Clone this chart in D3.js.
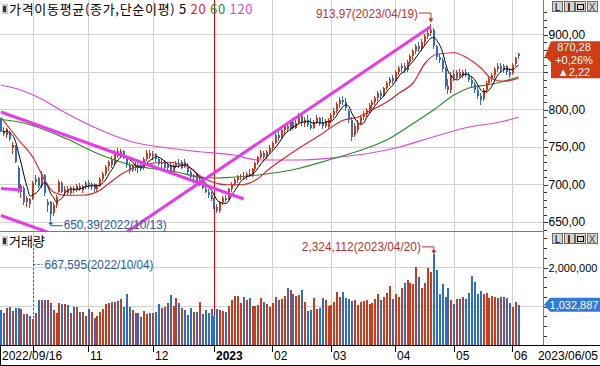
<!DOCTYPE html>
<html>
<head>
<meta charset="utf-8">
<script src="https://cdn.jsdelivr.net/npm/d3@7"></script>
<style>
body { margin: 0; background: #fff; }
svg { display: block; font-family: "Liberation Sans", Arial, sans-serif; }
</style>
</head>
<body>
<div id="chart"></div>
<script>
// KOSDAQ daily, 2022/09/16 - 2023/06/05
// trading days for each month
var monthDays = [
  ["2022-09", [16,19,20,21,22,23,26,27,28,29,30]],
  ["2022-10", [4,5,6,7,11,12,13,14,17,18,19,20,21,24,25,26,27,28,31]],
  ["2022-11", [1,2,3,4,7,8,9,10,11,14,15,16,17,18,21,22,23,24,25,28,29,30]],
  ["2022-12", [1,2,5,6,7,8,9,12,13,14,15,16,19,20,21,22,23,26,27,28,29]],
  ["2023-01", [2,3,4,5,6,9,10,11,12,13,16,17,18,19,20,25,26,27,30,31]],
  ["2023-02", [1,2,3,6,7,8,9,10,13,14,15,16,17,20,21,22,23,24,27,28]],
  ["2023-03", [2,3,6,7,8,9,10,13,14,15,16,17,20,21,22,23,24,27,28,29,30,31]],
  ["2023-04", [3,4,5,6,7,10,11,12,13,14,17,18,19,20,21,24,25,26,27,28]],
  ["2023-05", [2,3,4,8,9,10,11,12,15,16,17,18,19,22,23,24,25,26,30,31]],
  ["2023-06", [1,2,5]]
];

var opens = [785,770,765,770,748,750,722,690,695,676,680,
  680,703,708,697,712,672,676,662,672,690,702,690,694,688,695,692,698,692,697,
  701,697,700,693,698,707,713,724,732,728,744,739,744,735,726,719,724,721,726,721,734,741,
  737,740,733,727,730,721,725,718,724,728,722,730,723,716,709,712,702,706,694,690,686,
  680,670,664,676,682,680,693,700,705,709,711,709,714,712,720,728,736,741,736,743,
  748,755,765,762,772,777,773,783,775,782,791,781,786,779,775,783,788,782,777,776,
  785,792,798,807,812,809,798,786,765,772,782,789,794,799,805,810,815,821,818,828,835,842,
  838,849,855,858,852,863,871,877,884,880,890,897,901,905,884,870,866,853,831,826,
  847,842,849,844,850,846,839,833,826,818,813,825,835,840,845,853,858,852,857,849,
  848,860,873];
var highs = [788,776,775,771,756,752,724,700,697,684,682,
  704,712,710,718,713,680,678,676,686,706,704,697,698,697,698,700,702,699,704,
  706,703,702,700,710,716,726,732,738,746,748,747,746,737,729,727,730,728,730,736,745,746,
  744,742,736,733,732,728,728,727,731,733,732,734,728,719,714,714,710,708,698,694,689,
  682,673,678,684,686,695,703,708,712,714,716,716,720,722,730,738,745,744,746,752,
  758,768,772,775,780,782,786,788,786,795,794,790,792,788,786,792,790,789,787,788,
  795,801,810,816,818,815,800,789,782,785,792,797,802,808,812,818,824,826,830,838,843,846,
  852,858,862,861,866,874,880,887,890,893,900,906,913.97,908,886,874,868,856,840,850,
  852,852,853,852,854,849,844,836,829,822,828,838,843,848,856,862,861,860,859,855,
  862,869,875];
var lows = [770,764,762,757,740,728,688,681,672,670,668,
  679,699,695,695,684,663,650.39,658,668,688,688,684,685,686,688,690,691,688,693,
  694,692,690,690,696,704,711,718,722,726,735,736,733,722,714,716,718,715,717,719,731,734,
  732,730,724,722,719,716,715,716,721,722,720,721,714,706,701,700,698,693,688,682,677,
  667,661,662,672,676,679,690,697,701,705,706,706,709,710,718,726,733,733,734,740,
  745,753,758,760,766,770,771,772,773,780,778,776,776,772,773,780,778,774,775,774,
  782,788,795,802,805,798,782,758,763,768,779,785,790,795,800,806,811,814,816,825,831,834,
  836,845,850,848,850,860,866,873,876,878,886,893,898,880,866,862,850,827,820,822,
  838,840,841,842,843,836,830,822,814,806,811,822,832,836,842,850,849,848,846,842,
  846,857,867];
var closes = [772,767,773,760,752,730,692,697,676,681,673,
  702,707,698,714,688,676,660,672,683,703,690,694,688,695,692,698,693,697,701,
  697,700,693,698,707,713,723,729,726,743,738,744,736,725,718,724,721,726,720,733,741,737,
  740,733,727,730,721,725,718,724,728,725,730,723,716,709,712,702,706,695,690,686,680,
  671,664,676,681,679,693,700,705,709,711,709,714,712,720,728,736,741,736,743,748,
  755,765,762,772,777,773,783,775,782,791,781,786,779,775,783,788,782,777,784,785,
  792,798,807,812,809,801,786,763,778,782,789,794,799,805,810,815,821,818,828,835,840,838,
  849,855,858,852,863,871,877,884,880,890,897,901,905,884,870,866,853,831,826,846,
  842,849,844,850,846,839,833,826,818,812,825,835,840,845,853,858,852,857,849,846,
  859,868.06,870.28];

// volume, thousand shares
var volumes = [897,812,940,983,880,940,940,915,795,795,740,667.595,
  812,1154,1154,1154,1154,1068,897,829,1068,1051,
  1051,1026,829,983,983,855,855,752,915,855,
  701,744,855,915,1051,1085,1111,1111,1137,1188,
  983,1308,983,897,829,812,726,880,795,829,
  829,838,1051,940,983,1068,1282,1008,1214,1068,
  940,897,769,940,855,838,1111,795,897,829,
  915,744,915,897,880,838,1000,1154,1256,1256,
  1085,1239,1154,1197,1000,1000,1026,1197,1111,1051,
  983,1085,1239,1154,1188,1256,1453,1410,1308,1265,
  1282,1410,1111,880,897,1197,915,940,1197,1154,
  1000,1026,1111,1368,1239,1368,1197,1171,1137,1154,
  1026,1111,1137,1154,1043,1085,1171,1308,1154,1222,
  1325,1513,1171,1308,1239,1453,1581,1667,1581,1564,
  2009,1752,1453,1581,1966,1880,2324.112,1923,1300,1556,
  1222,1453,1154,1043,1171,1171,1239,1171,1325,1769,
  1624,1300,1385,1308,1325,1214,1256,1239,1197,1222,
  1222,1214,1068,983,1094,1032.887];

// longer moving averages: [bar index, value]
var ma20Pts = [[0,789],[6,759],[11,735],[15,705],[18,689],[22,685],[28,685],[34,692],[37,701],[42,715],
  [48,725],[57,729],[64,723],[68,711],[72,703],[77,699],[82,699],[87,705],[92,721],[97,735],
  [102,748],[109,765],[117,785],[122,789],[127,799],[133,812],[136,821],[141,835],[145,861],
  [149,873],[155,875],[159,869],[164,855],[168,840],[172,837],[177,841]];
var ma60Pts = [[0,786],[7,782],[22,761],[34,739],[45,725],[51,721],[60,716],[68,709],[73,708],
  [79,709],[88,712],[102,721],[112,732],[123,745],[132,759],[141,781],[148,799],[155,819],
  [160,828],[166,832],[171,836],[177,843]];
var ma120Pts = [[0,832],[7,825],[13,815],[22,795],[34,772],[45,756],[57,748],[68,743],[79,739],
  [88,732],[102,732],[116,736],[126,741],[136,749],[148,763],[159,775],[171,783],[177,789]];

// drawn trend lines: [bar index, price, bar index, price]
var trendLines = [[0,796,83,680],[0,658,83,543],[0,694,7,692],[43,636,147,910]];

var priceTicks = [650,700,750,800,850,900];
var volTicks = [1000000, 2000000];
var monthLabels = ["", "11", "12", "2023", "02", "03", "04", "05", "06"];

var lastPrice = 870.28, lastPct = "+0,26%", lastChg = "▲2,22";

// ---------------------------------------------------------------
var W = 600, H = 366;
var plotRight = 543;
var pBottom = 231, vTop = 232, vBottom = 345;
var red = "#cc3a1c", blue = "#2d6ec4";

var dates = [];
monthDays.forEach(function(m) {
  m[1].forEach(function(d) { dates.push(m[0] + "-" + (d < 10 ? "0" + d : d)); });
});
var bars = dates.map(function(d, i) {
  return {date: d, o: opens[i], h: highs[i], l: lows[i], c: closes[i], v: volumes[i] * 1000};
});

var step = 2.925;
var x = d3.scaleBand().domain(dates).range([-0.5, -0.5 + dates.length * step]);
function cx(d) { return x(d) + x.bandwidth() / 2; }
function px(d) { return Math.round(cx(d)); }
var y = d3.scaleLinear().domain([650, 900]).range([221.5, 34]);
var yv = d3.scaleLinear().domain([0, 2000000]).range([vBottom, 267]);

var svg = d3.select("#chart").append("svg").attr("width", W).attr("height", H);
svg.append("rect").attr("width", W).attr("height", H).attr("fill", "#fff");

var defs = svg.append("defs");
defs.append("clipPath").attr("id", "clipP").append("rect")
  .attr("x", 0).attr("y", 0).attr("width", plotRight).attr("height", pBottom);
defs.append("clipPath").attr("id", "clipV").append("rect")
  .attr("x", 0).attr("y", vTop).attr("width", plotRight).attr("height", vBottom - vTop);

// month gridlines
var monthStarts = monthDays.map(function(m) { return m[0] + "-" + (m[1][0] < 10 ? "0" + m[1][0] : m[1][0]); }).slice(1);
var grid = svg.append("g").attr("shape-rendering", "crispEdges");
monthStarts.forEach(function(d, i) {
  if (d === "2023-01-02") return;
  grid.append("line").attr("x1", Math.floor(cx(d)) + 0.5).attr("x2", Math.floor(cx(d)) + 0.5)
    .attr("y1", 0).attr("y2", vBottom).attr("stroke", "#d2d2d2");
});
priceTicks.forEach(function(t) {
  grid.append("line").attr("x1", 0).attr("x2", plotRight).attr("y1", Math.round(y(t)) + 0.5)
    .attr("y2", Math.round(y(t)) + 0.5).attr("stroke", "#d2d2d2");
});
volTicks.forEach(function(t) {
  grid.append("line").attr("x1", 0).attr("x2", plotRight).attr("y1", Math.round(yv(t)) + 0.5)
    .attr("y2", Math.round(yv(t)) + 0.5).attr("stroke", "#d2d2d2");
});

// year line
svg.append("line").attr("x1", Math.floor(cx("2023-01-02")) + 0.5).attr("x2", Math.floor(cx("2023-01-02")) + 0.5)
  .attr("y1", 0).attr("y2", vBottom).attr("stroke", "#e00000").attr("shape-rendering", "crispEdges");

// price panel
var gp = svg.append("g").attr("clip-path", "url(#clipP)");

// ma lines
function maLine(pts, color, w) {
  var line = d3.line()
    .x(function(p) { return cx(dates[p[0]]); })
    .y(function(p) { return y(p[1]); })
    .curve(d3.curveMonotoneX);
  gp.append("path").attr("d", line(pts)).attr("fill", "none").attr("stroke", color).attr("stroke-width", w);
}
maLine(ma120Pts, "#d84ad8", 1.2);
maLine(ma60Pts, "#2a8a2a", 1.2);
maLine(ma20Pts, "#e0202a", 1.2);

// candles
var cg = gp.append("g").attr("shape-rendering", "crispEdges");
cg.selectAll("line.wick").data(bars).enter().append("line")
  .attr("x1", function(d) { return px(d.date) - 0.5; })
  .attr("x2", function(d) { return px(d.date) - 0.5; })
  .attr("y1", function(d) { return y(d.h); })
  .attr("y2", function(d) { return y(d.l); })
  .attr("stroke", function(d) { return d.c >= d.o ? red : blue; });
cg.selectAll("rect.body").data(bars).enter().append("rect")
  .attr("x", function(d) { return px(d.date) - 1; })
  .attr("width", 2)
  .attr("y", function(d) { return y(Math.max(d.o, d.c)); })
  .attr("height", function(d) { return Math.max(1, Math.abs(y(d.o) - y(d.c))); })
  .attr("fill", function(d) { return d.c >= d.o ? red : blue; });

// 5 day average
var ma5 = closes.map(function(c, i) {
  var s = closes.slice(Math.max(0, i - 4), i + 1);
  return [i, d3.mean(s)];
});
maLine(ma5, "#000", 1);

// trend lines
trendLines.forEach(function(t) {
  gp.append("line")
    .attr("x1", cx(dates[t[0]])).attr("y1", y(t[1]))
    .attr("x2", cx(dates[t[2]])).attr("y2", y(t[3]))
    .attr("stroke", "#e83ae8").attr("stroke-width", 3);
});

// volume bars
var gv = svg.append("g").attr("clip-path", "url(#clipV)").attr("shape-rendering", "crispEdges");
gv.selectAll("rect").data(bars).enter().append("rect")
  .attr("x", function(d) { return px(d.date) - 1; })
  .attr("width", 2)
  .attr("y", function(d) { return yv(d.v); })
  .attr("height", function(d) { return vBottom - yv(d.v); })
  .attr("fill", function(d) { return d.c >= d.o ? red : blue; });

// panel separator and axis line
svg.append("line").attr("x1", 0).attr("x2", plotRight).attr("y1", pBottom + 0.5).attr("y2", pBottom + 0.5)
  .attr("stroke", "#7a7a7a").attr("shape-rendering", "crispEdges");
svg.append("line").attr("x1", plotRight + 0.5).attr("x2", plotRight + 0.5).attr("y1", 0).attr("y2", vBottom)
  .attr("stroke", "#7a7a7a").attr("shape-rendering", "crispEdges");

// last value badge extents
var by = y(lastPrice);
var badgeTop = by - 15, badgeBot = by + 22;

// right axes
var fmtP = function(d) { return d3.format(".2f")(d).replace(".", ","); };
var ax1 = svg.append("g").attr("transform", "translate(" + (plotRight + 0.5) + ",0.5)")
  .call(d3.axisRight(y).tickValues(d3.range(630, 931, 10)).tickSize(3).tickFormat(""));
var ax2 = svg.append("g").attr("transform", "translate(" + (plotRight + 0.5) + ",0.5)")
  .call(d3.axisRight(y).tickValues(priceTicks).tickSize(4).tickPadding(1).tickFormat(fmtP));
var ax3 = svg.append("g").attr("transform", "translate(" + (plotRight + 0.5) + ",0.5)")
  .call(d3.axisRight(yv).tickValues(d3.range(250000, 2750001, 250000)).tickSize(3).tickFormat(""));
var ax4 = svg.append("g").attr("transform", "translate(" + (plotRight + 0.5) + ",0.5)")
  .call(d3.axisRight(yv).tickValues([2000000]).tickSize(4).tickPadding(1).tickFormat(d3.format(",")));
[ax1, ax2, ax3, ax4].forEach(function(a) {
  a.select(".domain").remove();
  a.selectAll("text").attr("font-size", 12).attr("font-family", "Liberation Sans, Arial, sans-serif").attr("fill", "#000");
  a.selectAll("line").attr("stroke", "#333").attr("shape-rendering", "crispEdges");
});
ax1.selectAll(".tick").filter(function(d) { return y(d) > pBottom - 1 || y(d) < 2; }).remove();
ax2.selectAll(".tick").filter(function(d) { return y(d) > pBottom - 1; }).remove();
// label hidden under the badge
ax2.selectAll(".tick text").filter(function(d) { return y(d) > badgeTop && y(d) < badgeBot; }).remove();
ax3.selectAll(".tick").filter(function(d) { return yv(d) < vTop + 3; }).remove();
ax4.selectAll("text").attr("font-size", 11);

// x axis strip
var xs = svg.append("g").attr("shape-rendering", "crispEdges");
xs.append("line").attr("x1", 0).attr("x2", W).attr("y1", vBottom + 0.5).attr("y2", vBottom + 0.5).attr("stroke", "#000");
xs.append("line").attr("x1", 0).attr("x2", W).attr("y1", H - 0.5).attr("y2", H - 0.5).attr("stroke", "#000");
xs.append("line").attr("x1", 0.5).attr("x2", 0.5).attr("y1", vBottom).attr("y2", H).attr("stroke", "#000");
monthStarts.forEach(function(d, i) {
  var gx = Math.floor(cx(d)) + 0.5;
  xs.append("line").attr("x1", gx).attr("x2", gx).attr("y1", vBottom).attr("y2", vBottom + 7).attr("stroke", "#000");
  if (monthLabels[i]) {
    svg.append("text").attr("x", gx + 1.5).attr("y", 360).attr("font-size", 12)
      .attr("font-weight", monthLabels[i] === "2023" ? "bold" : "normal")
      .text(monthLabels[i]);
  }
});
svg.append("text").attr("x", 2).attr("y", 360).attr("font-size", 12).text("2022/09/16");
svg.append("text").attr("x", 598).attr("y", 360).attr("font-size", 12).attr("text-anchor", "end").text("2023/06/05");

// panel titles
function titleIcon(ty) {
  svg.append("rect").attr("x", 2).attr("y", ty).attr("width", 6).attr("height", 10).attr("fill", "#c8c8c8");
  svg.append("rect").attr("x", 3).attr("y", ty + 2).attr("width", 3).attr("height", 6).attr("fill", "#333");
}
titleIcon(4);
var tt = svg.append("text").attr("x", 9).attr("y", 14).attr("font-size", 13)
  .attr("letter-spacing", 0.7)
  .attr("font-family", "Noto Sans CJK KR, sans-serif");
tt.append("tspan").attr("fill", "#000").text("가격이동평균(종가,단순이평) 5 ");
tt.append("tspan").attr("fill", "#e0202a").text("20 ");
tt.append("tspan").attr("fill", "#2a8a2a").text("60 ");
tt.append("tspan").attr("fill", "#d84ad8").text("120");
titleIcon(236);
svg.append("text").attr("x", 9).attr("y", 246).attr("font-size", 13)
  .attr("font-family", "Noto Sans CJK KR, sans-serif").text("거래량");

// window buttons
function buttons(by) {
  var glyphs = ["L", "I", "sq", "X"];
  glyphs.forEach(function(gph, i) {
    var bx = 552 + i * 11.5;
    svg.append("rect").attr("x", bx + 0.5).attr("y", by + 0.5).attr("width", 10).attr("height", 10)
      .attr("fill", "#d6d3cc").attr("stroke", "#6a6a6a").attr("shape-rendering", "crispEdges");
    if (gph === "sq") {
      svg.append("rect").attr("x", bx + 2.5).attr("y", by + 3.5).attr("width", 6).attr("height", 5)
        .attr("fill", "none").attr("stroke", "#000").attr("shape-rendering", "crispEdges");
    } else {
      svg.append("text").attr("x", bx + 5.5).attr("y", by + 9.5).attr("font-size", 10)
        .attr("font-weight", gph === "I" ? "bold" : "normal")
        .attr("text-anchor", "middle").attr("fill", gph === "X" ? "#444" : "#000").text(gph);
    }
  });
}
buttons(1);
buttons(233);

// high / low annotations
var hiIdx = d3.maxIndex(highs), loIdx = d3.minIndex(lows);
var vHiIdx = d3.maxIndex(volumes), vLoIdx = d3.minIndex(volumes);
function dstr(d) { return d.replace(/-/g, "/"); }

var hx = cx(dates[hiIdx]), hy = y(highs[hiIdx]);
svg.append("text").attr("x", hx - 13).attr("y", hy - 6).attr("font-size", 12).attr("fill", "#b5352a")
  .attr("text-anchor", "end").attr("textLength", 102).attr("lengthAdjust", "spacingAndGlyphs")
  .text(fmtP(highs[hiIdx]) + "(" + dstr(dates[hiIdx]) + ")");
svg.append("path").attr("d", "M" + (hx - 12) + "," + (hy - 10.5) + "H" + hx + "V" + (hy - 3))
  .attr("fill", "none").attr("stroke", "#b5352a");
svg.append("path").attr("d", "M" + (hx - 2.5) + "," + (hy - 5) + "L" + (hx + 2.5) + "," + (hy - 5) + "L" + hx + "," + (hy - 1) + "Z")
  .attr("fill", "#b5352a");

var lx = cx(dates[loIdx]), ly = y(lows[loIdx]);
svg.append("text").attr("x", lx + 13).attr("y", ly + 8).attr("font-size", 12).attr("fill", "#2d5aa0")
  .attr("textLength", 103).attr("lengthAdjust", "spacingAndGlyphs")
  .text(fmtP(lows[loIdx]) + "(" + dstr(dates[loIdx]) + ")");
svg.append("path").attr("d", "M" + (lx + 12) + "," + (ly + 4.5) + "H" + lx + "V" + (ly + 2))
  .attr("fill", "none").attr("stroke", "#2d5aa0");
svg.append("path").attr("d", "M" + (lx - 2.5) + "," + (ly + 3) + "L" + (lx + 2.5) + "," + (ly + 3) + "L" + lx + "," + (ly) + "Z")
  .attr("fill", "#2d5aa0");

var vhx = cx(dates[vHiIdx]), vhy = yv(volumes[vHiIdx] * 1000);
svg.append("text").attr("x", vhx - 13).attr("y", vhy - 3).attr("font-size", 12).attr("fill", "#b5352a")
  .attr("text-anchor", "end").attr("textLength", 119).attr("lengthAdjust", "spacingAndGlyphs")
  .text(d3.format(",")(Math.round(volumes[vHiIdx] * 1000)) + "(" + dstr(dates[vHiIdx]) + ")");
svg.append("path").attr("d", "M" + (vhx - 12) + "," + (vhy - 7.5) + "H" + vhx + "V" + (vhy - 2))
  .attr("fill", "none").attr("stroke", "#b5352a");
svg.append("path").attr("d", "M" + (vhx - 2.5) + "," + (vhy - 4) + "L" + (vhx + 2.5) + "," + (vhy - 4) + "L" + vhx + "," + (vhy) + "Z")
  .attr("fill", "#b5352a");

var vlx = Math.floor(cx(dates[vLoIdx])) + 0.5, vly = yv(volumes[vLoIdx] * 1000);
svg.append("path").attr("d", "M" + vlx + "," + (vly - 1) + "V244")
  .attr("fill", "none").attr("stroke", "#2d5aa0").attr("stroke-dasharray", "2,2");
svg.append("path").attr("d", "M" + vlx + ",264.5H" + (vlx + 9))
  .attr("fill", "none").attr("stroke", "#2d5aa0").attr("stroke-dasharray", "2,2");
svg.append("text").attr("x", vlx + 11).attr("y", 268.5).attr("font-size", 12).attr("fill", "#2d5aa0")
  .attr("textLength", 109).attr("lengthAdjust", "spacingAndGlyphs")
  .text(d3.format(",")(Math.round(volumes[vLoIdx] * 1000)) + "(" + dstr(dates[vLoIdx]) + ")");

// last value badges
svg.append("path")
  .attr("d", "M545," + by + "L551," + badgeTop + "H600V" + badgeBot + "H551V" + (by + 6) + "Z")
  .attr("fill", "#cf3d17");
[fmtP(lastPrice), lastPct, lastChg].forEach(function(t, i) {
  svg.append("text").attr("x", 574).attr("y", by - 5.5 + i * 12.8).attr("font-size", 11)
    .attr("text-anchor", "middle").attr("fill", "#fff").text(t);
});
var vb = yv(volumes[volumes.length - 1] * 1000);
svg.append("path")
  .attr("d", "M544," + vb + "L550," + (vb - 7) + "H600V" + (vb + 7) + "H550Z")
  .attr("fill", "#2f7ad8");
svg.append("text").attr("x", 574).attr("y", vb + 4).attr("font-size", 11)
  .attr("text-anchor", "middle").attr("fill", "#fff")
  .text(d3.format(",")(Math.round(volumes[volumes.length - 1] * 1000)));
</script>
</body>
</html>
